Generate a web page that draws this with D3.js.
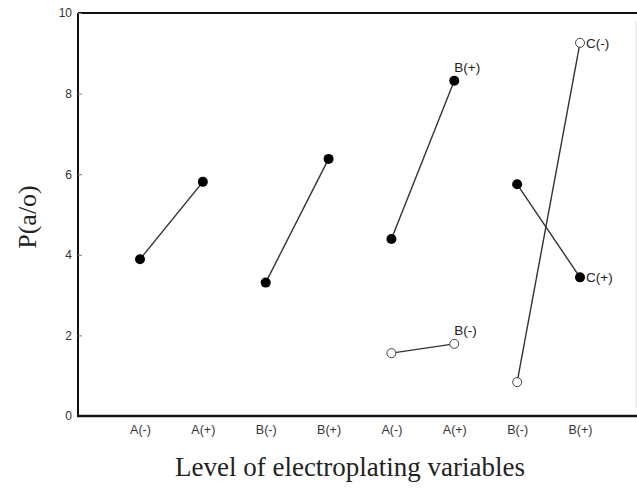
<!DOCTYPE html>
<html><head><meta charset="utf-8">
<script src="https://cdn.jsdelivr.net/npm/d3@7"></script>
<style>html,body{margin:0;padding:0;background:#fff;}svg{display:block;}</style>
</head><body>
<svg id="chart" width="637" height="488"></svg>
<script>
const categories = ["A(-)","A(+)","B(-)","B(+)","A(-)","A(+)","B(-)","B(+)"];
const filledValues = [3.89, 5.81, 3.31, 6.38, 4.39, 8.32, 5.75, 3.44];
const openValues = [null, null, null, null, 1.56, 1.79, 0.84, 9.26];
const yTicks = [0, 2, 4, 6, 8, 10];
const pointLabels = [
  {series: "filled", index: 5, text: "B(+)"},
  {series: "open", index: 5, text: "B(-)"},
  {series: "filled", index: 7, text: "C(+)"},
  {series: "open", index: 7, text: "C(-)"}
];
const yTitle = "P(a/o)";
const xTitle = "Level of electroplating variables";

(function () {
const svg = d3.select("#chart");
const mLeft = 78, mTop = 13, mBottom = 416, mRight = 637;
const idx = categories.map((d, i) => i);
const x = d3.scalePoint().domain(idx).range([140, 580]);
const y = d3.scaleLinear().domain([0, 10]).range([mBottom, mTop]);
const sans = "Arial, 'Liberation Sans', sans-serif";
const serif = "'Times New Roman', 'Liberation Serif', serif";

// frame
svg.append("line").attr("x1", mLeft).attr("x2", mRight).attr("y1", mTop).attr("y2", mTop)
  .attr("stroke", "#111").attr("stroke-width", 2);
svg.append("line").attr("x1", mLeft).attr("x2", mLeft).attr("y1", mTop).attr("y2", mBottom)
  .attr("stroke", "#111").attr("stroke-width", 2);
svg.append("line").attr("x1", mRight - 1).attr("x2", mRight - 1).attr("y1", mTop + 8).attr("y2", mBottom - 8)
  .attr("stroke", "#ddd").attr("stroke-width", 1);

// y axis
const yAxis = d3.axisLeft(y).tickValues(yTicks).tickSize(-4).tickPadding(6).tickFormat(d3.format("d"));
const ga = svg.append("g").attr("transform", `translate(${mLeft},0)`).call(yAxis);
ga.select(".domain").remove();
ga.selectAll(".tick line").attr("stroke", "#777");
ga.selectAll(".tick text").attr("font-family", sans).attr("font-size", 12).attr("fill", "#333");

// x axis
const xAxis = d3.axisBottom(x).tickSize(0).tickPadding(9).tickFormat(i => categories[i]);
const gx = svg.append("g").attr("transform", `translate(0,${mBottom})`).call(xAxis);
gx.select(".domain").remove();
gx.selectAll(".tick text").attr("font-family", sans).attr("font-size", 12.5).attr("fill", "#333");
svg.append("line").attr("x1", mLeft - 1).attr("x2", mRight).attr("y1", mBottom).attr("y2", mBottom)
  .attr("stroke", "#111").attr("stroke-width", 2.5);

// segments
function segs(vals) {
  const out = [];
  for (let i = 0; i < vals.length; i += 2) {
    if (vals[i] != null && vals[i + 1] != null) out.push([i, i + 1]);
  }
  return out;
}
const line = d3.line().x(d => x(d[0])).y(d => y(d[1]));
[filledValues, openValues].forEach(vals => {
  svg.append("g").selectAll("path").data(segs(vals)).join("path")
    .attr("d", p => line(p.map(i => [i, vals[i]])))
    .attr("fill", "none").attr("stroke", "#333").attr("stroke-width", 1.4);
});

svg.append("g").selectAll("circle").data(idx.filter(i => filledValues[i] != null)).join("circle")
  .attr("cx", i => x(i)).attr("cy", i => y(filledValues[i])).attr("r", 5)
  .attr("fill", "#000");
svg.append("g").selectAll("circle").data(idx.filter(i => openValues[i] != null)).join("circle")
  .attr("cx", i => x(i)).attr("cy", i => y(openValues[i])).attr("r", 4.5)
  .attr("fill", "#fff").attr("stroke", "#444").attr("stroke-width", 1);

// point labels
svg.append("g").selectAll("text").data(pointLabels).join("text")
  .attr("x", d => {
    const px = x(d.index);
    return d.index === 7 ? px + 6 : px;
  })
  .attr("y", d => {
    const v = d.series === "filled" ? filledValues[d.index] : openValues[d.index];
    const py = y(v);
    return d.index === 7 ? py + 5 : py - 9;
  })
  .attr("font-family", sans).attr("font-size", 13.5).attr("fill", "#222")
  .text(d => d.text);

// titles
svg.append("text").attr("transform", "translate(36,217) rotate(-90)").attr("text-anchor", "middle")
  .attr("font-family", serif).attr("font-size", 26).attr("fill", "#222")
  .text(yTitle);
svg.append("text").attr("x", 350).attr("y", 476).attr("text-anchor", "middle")
  .attr("font-family", serif).attr("font-size", 27).attr("fill", "#222")
  .text(xTitle);
})();
</script>
</body></html>
